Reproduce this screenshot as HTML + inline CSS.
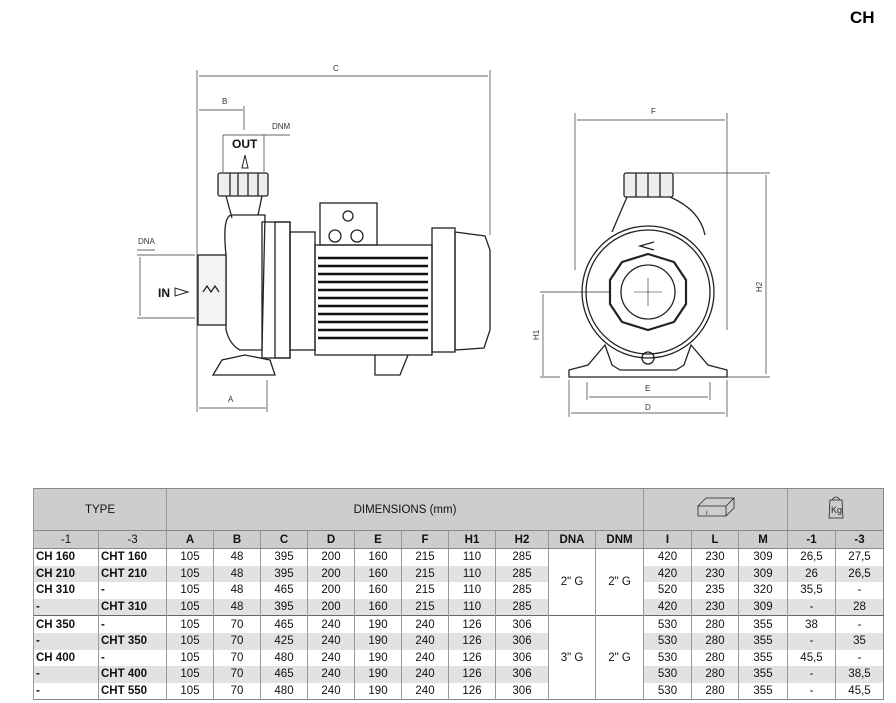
<!DOCTYPE html>
<html><head><meta charset="utf-8"><style>
body{margin:0;width:896px;height:703px;background:#fff;position:relative;font-family:"Liberation Sans",Arial,sans-serif;overflow:hidden}
svg{position:absolute;left:0;top:0}
table{position:absolute;left:33px;top:488px;border-collapse:collapse;font-size:11.5px;color:#111;table-layout:fixed}
td{border-left:1px solid #999;padding:0;text-align:center;height:16.6px;line-height:16px}
tr.h1 td{background:#cdcdcd;height:41px;border-bottom:1px solid #888;border-top:1px solid #888}
tr.h2 td{background:#cdcdcd;height:17px;font-weight:bold;border-bottom:1px solid #888}
tr.g td{background:#e2e2e2}
td.t{text-align:left;font-weight:bold;padding-left:2px}
td.m{background:#fff!important;vertical-align:middle}
tr.sep td{border-top:1px solid #666}
table{border:1px solid #888}
</style></head><body>
<div style="position:absolute;left:850px;top:8px;font-weight:bold;font-size:17px">CH</div>
<svg width="896" height="480" stroke="#222" fill="none" stroke-width="1.3">
<g stroke-width="0.7" stroke="#333">
<line x1="197" y1="70" x2="197" y2="412"/><line x1="490" y1="70" x2="490" y2="235"/>
<line x1="199" y1="76" x2="488" y2="76"/><line x1="199" y1="110" x2="243" y2="110"/><line x1="244" y1="106" x2="244" y2="130"/>
<line x1="223" y1="135" x2="290" y2="135"/><line x1="223" y1="135" x2="223" y2="172"/><line x1="264" y1="135" x2="264" y2="172"/>
<line x1="199" y1="408" x2="266" y2="408"/><line x1="267" y1="380" x2="267" y2="412"/>
<line x1="137" y1="250" x2="155" y2="250"/><line x1="137" y1="255" x2="195" y2="255"/><line x1="137" y1="318" x2="195" y2="318"/><line x1="140" y1="257" x2="140" y2="316"/>
</g>
<g font-size="8" fill="#333" stroke="none">
<text x="333" y="71">C</text><text x="222" y="104">B</text><text x="272" y="129">DNM</text><text x="138" y="244">DNA</text><text x="228" y="402">A</text>
</g>
<text x="232" y="148" font-size="12" font-weight="bold" fill="#111" stroke="none">OUT</text>
<text x="158" y="297" font-size="12" font-weight="bold" fill="#111" stroke="none">IN</text>
<path d="M175 288 L188 292 L175 296Z M242 168 L245 155 L248 168Z" stroke-width="1"/>
<rect x="218" y="173" width="50" height="23" rx="2" fill="#eee"/>
<path d="M230 173v23M238 173v23M248 173v23M258 173v23"/>
<path d="M226 196 L232 218 M262 196 L258 215"/>
<path d="M232 215 Q222 215 226 255 L226 330 Q230 345 240 350 L262 350 L265 215Z"/>
<rect x="198" y="255" width="28" height="70" fill="#f4f4f4"/>
<path d="M203 292 l4 -6 l4 6 l4 -6 l4 6"/>
<rect x="262" y="222" width="28" height="136"/>
<rect x="275" y="222" width="15" height="136"/>
<rect x="290" y="232" width="25" height="118"/>
<path d="M213 375 L275 375 L270 360 L245 355 L222 360Z"/>
<rect x="320" y="203" width="57" height="42"/>
<circle cx="348" cy="216" r="5"/><circle cx="335" cy="236" r="6"/><circle cx="357" cy="236" r="6"/>
<rect x="315" y="245" width="117" height="110"/>
<g stroke-width="2.6" stroke="#111"><path d="M318 258h110M318 266h110M318 274h110M318 282h110M318 290h110M318 298h110M318 306h110M318 314h110M318 322h110M318 330h110M318 338h110"/></g>
<rect x="432" y="228" width="23" height="124"/>
<path d="M455 232 L485 236 L490 250 L490 330 L484 348 L455 350Z"/>
<path d="M375 355 L375 375 L400 375 L408 355"/>
<g stroke-width="0.7" stroke="#333">
<line x1="575" y1="113" x2="575" y2="270"/><line x1="727" y1="113" x2="727" y2="330"/>
<line x1="577" y1="120" x2="725" y2="120"/>
<line x1="673" y1="173" x2="770" y2="173"/><line x1="766" y1="175" x2="766" y2="374"/>
<line x1="540" y1="292" x2="610" y2="292"/><line x1="543" y1="294" x2="543" y2="376"/>
<line x1="540" y1="377" x2="560" y2="377"/><line x1="700" y1="377" x2="770" y2="377"/>
<line x1="569" y1="380" x2="569" y2="417"/><line x1="727" y1="380" x2="727" y2="417"/><line x1="587" y1="382" x2="587" y2="400"/><line x1="710" y1="382" x2="710" y2="400"/>
<line x1="589" y1="397" x2="708" y2="397"/><line x1="571" y1="413" x2="725" y2="413"/>
</g>
<g font-size="8" fill="#333" stroke="none"><text x="651" y="114">F</text><text x="645" y="391">E</text><text x="645" y="410">D</text>
<text transform="translate(762,292) rotate(-90)">H2</text><text transform="translate(539,340) rotate(-90)">H1</text></g>
<rect x="624" y="173" width="49" height="24" rx="2" fill="#eee"/>
<path d="M636 173v24M648 173v24M660 173v24"/>
<path d="M627 197 L612 232 M670 197 Q700 210 705 235"/>
<circle cx="648" cy="292" r="66"/><circle cx="648" cy="292" r="62"/>
<polygon points="648,254 674,262 686,280 686,304 674,322 648,330 622,322 610,304 610,280 622,262" stroke-width="2.2"/>
<circle cx="648" cy="292" r="27"/>
<path d="M648 278v28M634 292h28" stroke-width="0.6"/>
<path d="M654 242 L640 246 L654 250"/>
<circle cx="648" cy="358" r="6"/>
<path d="M569 377 L569 370 L588 365 L605 345 L612 365 L620 370 L676 370 L684 365 L691 345 L708 365 L727 370 L727 377Z"/>
</svg>
<table>
<colgroup><col style="width:65px"><col style="width:68px"><col style="width:47px"><col style="width:47px"><col style="width:47px"><col style="width:47px"><col style="width:47px"><col style="width:47px"><col style="width:47px"><col style="width:53px"><col style="width:47px"><col style="width:48px"><col style="width:48px"><col style="width:47px"><col style="width:49px"><col style="width:48px"><col style="width:48px"></colgroup>
<tr class="h1"><td colspan="2">TYPE</td><td colspan="10">DIMENSIONS (mm)</td><td colspan="3"><svg style="position:static" width="60" height="30" stroke="#222" fill="none" stroke-width="0.8"><path d="M12 14 L20 6 L48 6 L40 14Z M12 14 V24 H40 V14 M40 24 L48 16 V6"/><text x="20" y="23" font-size="6" stroke="none" fill="#222">I</text></svg></td><td colspan="2"><svg style="position:static" width="24" height="30" stroke="#222" fill="none" stroke-width="0.8"><path d="M8 8 Q12 2 16 8 M6 8 H18 L19 26 H5Z"/><text x="7" y="21" font-size="9" stroke="none" fill="#222">Kg</text></svg></td></tr>
<tr class="h2"><td style="font-weight:normal">-1</td><td style="font-weight:normal">-3</td><td>A</td><td>B</td><td>C</td><td>D</td><td>E</td><td>F</td><td>H1</td><td>H2</td><td>DNA</td><td>DNM</td><td>I</td><td>L</td><td>M</td><td>-1</td><td>-3</td></tr>
<tr><td class="t">CH 160</td><td class="t">CHT 160</td><td>105</td><td>48</td><td>395</td><td>200</td><td>160</td><td>215</td><td>110</td><td>285</td><td class="m" rowspan="4">2" G</td><td class="m" rowspan="4">2" G</td><td>420</td><td>230</td><td>309</td><td>26,5</td><td>27,5</td></tr>
<tr class="g"><td class="t">CH 210</td><td class="t">CHT 210</td><td>105</td><td>48</td><td>395</td><td>200</td><td>160</td><td>215</td><td>110</td><td>285</td><td>420</td><td>230</td><td>309</td><td>26</td><td>26,5</td></tr>
<tr><td class="t">CH 310</td><td class="t">-</td><td>105</td><td>48</td><td>465</td><td>200</td><td>160</td><td>215</td><td>110</td><td>285</td><td>520</td><td>235</td><td>320</td><td>35,5</td><td>-</td></tr>
<tr class="g"><td class="t">-</td><td class="t">CHT 310</td><td>105</td><td>48</td><td>395</td><td>200</td><td>160</td><td>215</td><td>110</td><td>285</td><td>420</td><td>230</td><td>309</td><td>-</td><td>28</td></tr>
<tr class="sep"><td class="t">CH 350</td><td class="t">-</td><td>105</td><td>70</td><td>465</td><td>240</td><td>190</td><td>240</td><td>126</td><td>306</td><td class="m" rowspan="5">3" G</td><td class="m" rowspan="5">2" G</td><td>530</td><td>280</td><td>355</td><td>38</td><td>-</td></tr>
<tr class="g"><td class="t">-</td><td class="t">CHT 350</td><td>105</td><td>70</td><td>425</td><td>240</td><td>190</td><td>240</td><td>126</td><td>306</td><td>530</td><td>280</td><td>355</td><td>-</td><td>35</td></tr>
<tr><td class="t">CH 400</td><td class="t">-</td><td>105</td><td>70</td><td>480</td><td>240</td><td>190</td><td>240</td><td>126</td><td>306</td><td>530</td><td>280</td><td>355</td><td>45,5</td><td>-</td></tr>
<tr class="g"><td class="t">-</td><td class="t">CHT 400</td><td>105</td><td>70</td><td>465</td><td>240</td><td>190</td><td>240</td><td>126</td><td>306</td><td>530</td><td>280</td><td>355</td><td>-</td><td>38,5</td></tr>
<tr><td class="t">-</td><td class="t">CHT 550</td><td>105</td><td>70</td><td>480</td><td>240</td><td>190</td><td>240</td><td>126</td><td>306</td><td>530</td><td>280</td><td>355</td><td>-</td><td>45,5</td></tr>
</table>
</body></html>
